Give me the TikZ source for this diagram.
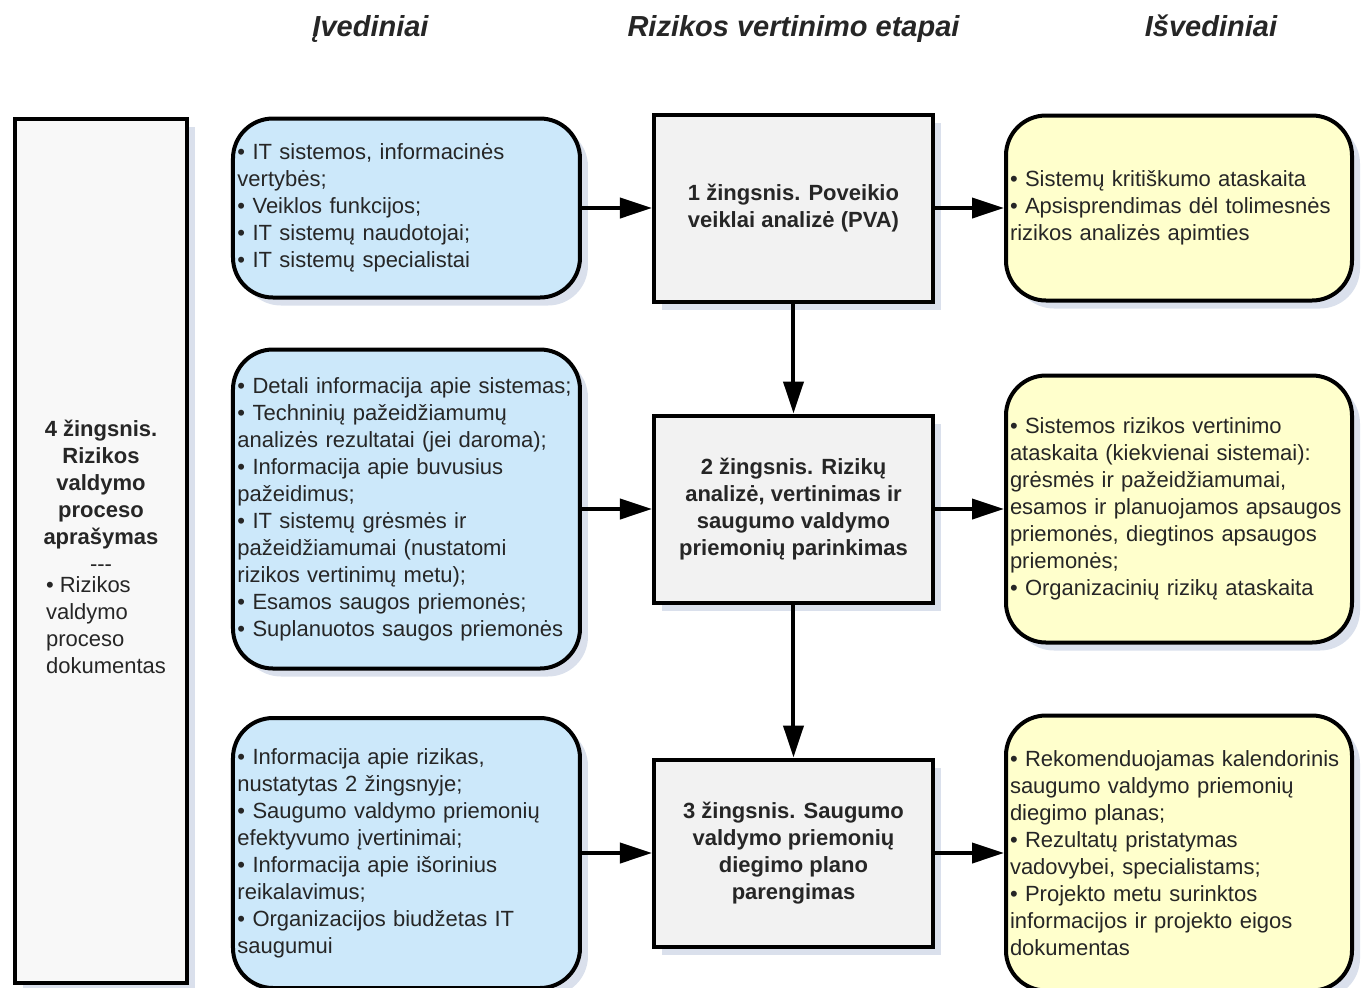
\documentclass[tikz,border=0pt]{standalone}
\usepackage{fontspec}
\setmainfont{Liberation Sans}
\usetikzlibrary{positioning,arrows.meta,shadows}
\definecolor{inblue}{RGB}{204,232,250}
\definecolor{outyellow}{RGB}{255,255,204}
\definecolor{stepgray}{RGB}{242,242,242}
\definecolor{docgray}{RGB}{248,248,248}
\definecolor{shadowc}{RGB}{218,224,236}
\newcommand{\bul}{\textbullet\ }

\begin{document}
\begin{tikzpicture}[
  node distance=35pt,
  shbox/.style={draw,line width=2pt,text=black!85,
                font=\fontsize{11}{13.5}\selectfont,
                drop shadow={shadow xshift=4pt,shadow yshift=-4pt,
                             fill=shadowc,opacity=1}},
  stepbox/.style={shbox,fill=stepgray,align=center,minimum width=139.5pt,
                  minimum height=93.5pt,font=\fontsize{11}{13.5}\selectfont\bfseries},
  inbox/.style={shbox,fill=inblue,rounded corners=20pt,align=left,
                text width=169pt,inner xsep=2.25pt},
  outbox/.style={shbox,fill=outyellow,rounded corners=20pt,align=left,
                 text width=169pt,inner xsep=2pt},
  docbox/.style={shbox,fill=docgray,align=center,minimum width=86pt,
                 minimum height=432pt},
  head/.style={font=\fontsize{14.5}{16}\selectfont\bfseries\itshape,
               text=black!85,anchor=base},
  arr/.style={-{Triangle[length=16pt,width=10pt]},line width=2pt}
]

\useasboundingbox (-396.75pt,104pt) rectangle (286.25pt,-389.5pt);

\node[stepbox] (s1) at (0,0)
  {1 žingsnis. Poveikio\\veiklai analizė (PVA)};

\node[stepbox,below=55pt of s1] (s2)
  {2 žingsnis. Rizikų\\analizė, vertinimas ir\\saugumo valdymo\\priemonių parinkimas};

\node[stepbox,below=76.5pt of s2] (s3)
  {3 žingsnis. Saugumo\\valdymo priemonių\\diegimo plano\\parengimas};

\node[inbox,minimum height=89.5pt,left=35pt of s1] (in1)
  {\bul IT sistemos, informacinės\\
   vertybės;\\
   \bul Veiklos funkcijos;\\
   \bul IT sistemų naudotojai;\\
   \bul IT sistemų specialistai};

\node[inbox,minimum height=159.5pt,left=35pt of s2] (in2)
  {\bul Detali informacija apie sistemas;\\
   \bul Techninių pažeidžiamumų\\
   analizės rezultatai (jei daroma);\\
   \bul Informacija apie buvusius\\
   pažeidimus;\\
   \bul IT sistemų grėsmės ir\\
   pažeidžiamumai (nustatomi\\
   rizikos vertinimų metu);\\
   \bul Esamos saugos priemonės;\\
   \bul Suplanuotos saugos priemonės};

\node[inbox,minimum height=135pt,left=35pt of s3] (in3)
  {\bul Informacija apie rizikas,\\
   nustatytas 2 žingsnyje;\\
   \bul Saugumo valdymo priemonių\\
   efektyvumo įvertinimai;\\
   \bul Informacija apie išorinius\\
   reikalavimus;\\
   \bul Organizacijos biudžetas IT\\
   saugumui};

\node[outbox,minimum height=92.5pt,right=34.5pt of s1] (out1)
  {\bul Sistemų kritiškumo ataskaita\\
   \bul Apsisprendimas dėl tolimesnės\\
   rizikos analizės apimties};

\node[outbox,minimum height=133.5pt,right=34.5pt of s2] (out2)
  {\bul Sistemos rizikos vertinimo\\
   ataskaita (kiekvienai sistemai):\\
   grėsmės ir pažeidžiamumai,\\
   esamos ir planuojamos apsaugos\\
   priemonės, diegtinos apsaugos\\
   priemonės;\\
   \bul Organizacinių rizikų ataskaita};

\node[outbox,minimum height=137.5pt,right=34.5pt of s3] (out3)
  {\bul Rekomenduojamas kalendorinis\\
   saugumo valdymo priemonių\\
   diegimo planas;\\
   \bul Rezultatų pristatymas\\
   vadovybei, specialistams;\\
   \bul Projekto metu surinktos\\
   informacijos ir projekto eigos\\
   dokumentas};

\node[docbox,left=21pt of in2,yshift=-20.75pt] (doc)
  {\textbf{4 žingsnis.}\\\textbf{Rizikos}\\\textbf{valdymo}\\
   \textbf{proceso}\\\textbf{aprašymas}\\-{}-{}-\\
   \hspace*{5pt}\begin{tabular}{@{}l@{}}\bul Rizikos\\valdymo\\proceso\\dokumentas\end{tabular}};

\node[head] (hmid) at ([yshift=38pt]s1.north) {Rizikos vertinimo etapai};
\node[head,xshift=-18pt] (hin) at (hmid.base -| in1) {Įvediniai};
\node[head,xshift=16pt] (hout) at (hmid.base -| out1) {Išvediniai};

\foreach \u/\v in {in1/s1,s1/out1,in2/s2,s2/out2,in3/s3,s3/out3,s1/s2,s2/s3}
  {\draw[arr] (\u)--(\v);}

\end{tikzpicture}
\end{document}
